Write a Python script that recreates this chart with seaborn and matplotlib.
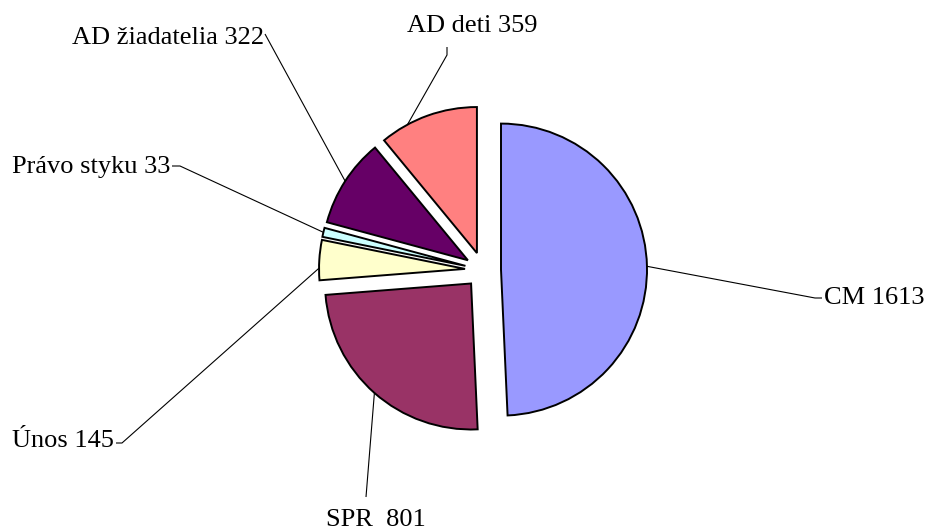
import numpy as np
import matplotlib
matplotlib.use("Agg")
import matplotlib.pyplot as plt
import seaborn as sns

labels = ["CM", "SPR", "Únos", "Právo styku", "AD žiadatelia", "AD deti"]
label_text = ["CM 1613", "SPR  801", "Únos 145", "Právo styku 33", "AD žiadatelia 322", "AD deti 359"]
values = [1613, 801, 145, 33, 322, 359]
colors = ["#9999FF", "#993366", "#FFFFCC", "#CCFFFF", "#660066", "#FF8080"]

sns.set_theme(style="white")
plt.rcParams["font.family"] = ["Liberation Serif", "DejaVu Serif"]

W, H = 929, 532
fig = plt.figure(figsize=(W / 100, H / 100), dpi=100)
ax = fig.add_axes([0, 0, 1, 1])

def Y(y):
    return H - y

cx, cy, R = 483, Y(270), 146
explode_px = 18
wedges, _ = ax.pie(values, colors=colors, startangle=90, counterclock=False,
                   explode=[explode_px] * len(values), center=(cx, cy), radius=R,
                   wedgeprops=dict(edgecolor="black", linewidth=1.4), frame=True)
ax.set_xlim(0, W)
ax.set_ylim(0, H)
ax.set_aspect("auto")
ax.axis("off")

# layout of labels: (anchor fraction along wedge, elbow point, end point, text pos, ha, va) in image px
layout = [
    (0.5, (815, 298), (822, 298), (824, 298), "left", "center"),
    (0.5, (366, 497), (366, 497), (376, 520), "center", "center"),
    (0.3, (122, 443), (116, 443), (114, 441), "right", "center"),
    (0.5, (180, 166), (172, 166), (170, 167), "right", "center"),
    (0.5, (265, 34), (265, 34), (264, 38), "right", "center"),
    (0.28, (447, 55), (447, 47), (472, 26), "center", "center"),
]

for w, txt, (frac, elbow, end, tpos, ha, va) in zip(wedges, label_text, layout):
    t1, t2 = w.theta1, w.theta2
    ang = np.deg2rad(t2 - frac * (t2 - t1))
    wcx, wcy = w.center
    ax0 = wcx + w.r * np.cos(ang)
    ay0 = wcy + w.r * np.sin(ang)
    xs = [ax0, elbow[0], end[0]]
    ys = [ay0, Y(elbow[1]), Y(end[1])]
    ax.plot(xs, ys, color="black", lw=0.8, solid_capstyle="butt", zorder=1)
    ax.text(tpos[0], Y(tpos[1]), txt, ha=ha, va=va, fontsize=19, color="black")

fig.savefig("out.png", dpi=100, facecolor="white")
